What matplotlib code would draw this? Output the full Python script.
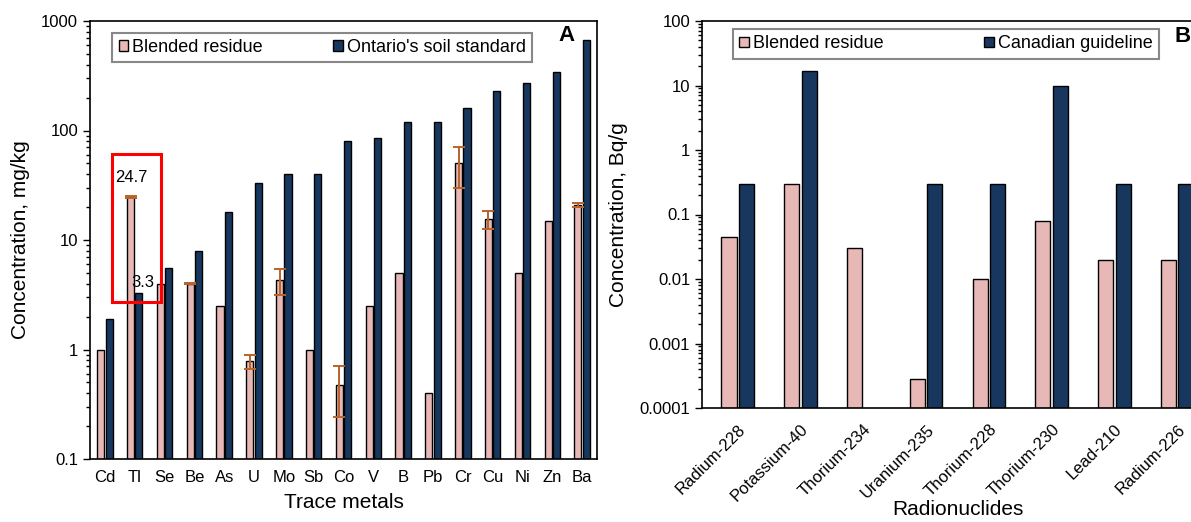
import numpy as np
import matplotlib
matplotlib.use("Agg")
import matplotlib.pyplot as plt
from matplotlib.patches import Rectangle
from matplotlib.ticker import LogLocator, NullFormatter, FixedLocator, FixedFormatter

plt.rcParams['font.family'] = ['Liberation Sans', 'DejaVu Sans']

# ---- Panel A data ----
metals = ["Cd", "Tl", "Se", "Be", "As", "U", "Mo", "Sb", "Co", "V", "B", "Pb",
          "Cr", "Cu", "Ni", "Zn", "Ba"]
blended_metals = [1.0, 24.7, 4.0, 4.0, 2.5, 0.78, 4.3, 1.0, 0.47, 2.5, 5.0, 0.4,
                  50, 15.5, 5.0, 15, 21]
blended_metals_err = [np.nan, 0.5, np.nan, 0.05, np.nan, 0.12, 1.15, np.nan, 0.23,
                      np.nan, np.nan, np.nan, 20, 3.0, np.nan, np.nan, 1.0]
ontario_std = [1.9, 3.3, 5.5, 8, 18, 33, 40, 40, 80, 86, 120, 120,
               160, 230, 270, 340, 670]

# ---- Panel B data ----
nuclides = ["Radium-228", "Potassium-40", "Thorium-234", "Uranium-235",
            "Thorium-228", "Thorium-230", "Lead-210", "Radium-226"]
blended_nuc = [0.045, 0.3, 0.03, 0.00028, 0.01, 0.08, 0.02, 0.02]
canadian_guideline = [0.3, 17, np.nan, 0.3, 0.3, 10, 0.3, 0.3]

PINK = "#e8b8b7"
NAVY = "#17375e"
ERR = "#b8632a"

fig = plt.figure(figsize=(11.91, 5.22), dpi=100)

W = 1191.0
H = 522.0
axA = fig.add_axes([90 / W, 1 - 459 / H, (597 - 90) / W, (459 - 21) / H])
axB = fig.add_axes([702 / W, 1 - 408 / H, (1213 - 702) / W, (408 - 21) / H])

bw = 0.24
off = 0.14

leg_kw = dict(loc="center", mode="expand", ncol=2, fontsize=13, frameon=True,
              fancybox=False, edgecolor="#888888", handlelength=0.55,
              handleheight=0.55, handletextpad=0.2, borderpad=0.35, framealpha=1)

# Panel A
x = np.arange(len(metals))
axA.bar(x - off, blended_metals, bw, color=PINK, edgecolor="black", linewidth=1.0,
        label="Blended residue", zorder=2)
axA.bar(x + off, ontario_std, bw, color=NAVY, edgecolor="black", linewidth=1.0,
        label="Ontario's soil standard", zorder=2)
err = np.array(blended_metals_err, dtype=float)
m = ~np.isnan(err)
axA.errorbar((x - off)[m], np.array(blended_metals)[m], yerr=err[m], fmt="none",
             ecolor=ERR, elinewidth=1.4, capsize=4, capthick=1.4, zorder=3)
axA.set_yscale("log")
axA.set_ylim(0.1, 1000)
axA.set_xlim(-0.5, len(metals) - 0.5)
axA.set_xticks(x)
axA.set_xticklabels(metals, fontsize=12)
axA.tick_params(axis="x", length=0, pad=8)
axA.yaxis.set_major_locator(FixedLocator([0.1, 1, 10, 100, 1000]))
axA.yaxis.set_major_formatter(FixedFormatter(["0.1", "1", "10", "100", "1000"]))
axA.yaxis.set_minor_locator(LogLocator(base=10, subs=np.arange(2, 10)))
axA.yaxis.set_minor_formatter(NullFormatter())
axA.tick_params(axis="y", which="major", labelsize=12, length=5, width=1)
axA.tick_params(axis="y", which="minor", length=3, width=1)
axA.set_xlabel("Trace metals", fontsize=15, labelpad=6)
axA.set_ylabel("Concentration, mg/kg", fontsize=15, labelpad=8)
for s in axA.spines.values():
    s.set_linewidth(1.2)
legA = axA.legend(bbox_to_anchor=(0.026, 0.9, 0.864, 0.079), **leg_kw)
legA.get_frame().set_linewidth(1.5)
axA.text(0.939, 0.966, "A", transform=axA.transAxes, fontsize=16, fontweight="bold",
         ha="center", va="center")
# annotations
axA.text(1 - off + 0.02, 37, "24.7", fontsize=12, ha="center", va="center", zorder=4)
axA.text(1 + off + 0.12, 4.1, "3.3", fontsize=12, ha="center", va="center", zorder=4)
axA.add_patch(Rectangle((0.23, 2.73), 1.64, 61.5 - 2.73, fill=False,
                        edgecolor="red", linewidth=2.2, zorder=5))

# Panel B
xb = np.arange(len(nuclides))
axB.bar(xb - off, blended_nuc, bw, color=PINK, edgecolor="black", linewidth=1.0,
        label="Blended residue", zorder=2)
axB.bar(xb + off, canadian_guideline, bw, color=NAVY, edgecolor="black", linewidth=1.0,
        label="Canadian guideline", zorder=2)
axB.set_yscale("log")
axB.set_ylim(0.0001, 100)
axB.set_xlim(-0.57, len(nuclides) - 0.43)
axB.set_xticks(xb)
axB.set_xticklabels(nuclides, fontsize=12, rotation=45, ha="right",
                    rotation_mode="anchor")
axB.tick_params(axis="x", length=0, pad=10)
bt = [0.0001, 0.001, 0.01, 0.1, 1, 10, 100]
axB.yaxis.set_major_locator(FixedLocator(bt))
axB.yaxis.set_major_formatter(FixedFormatter(["0.0001", "0.001", "0.01", "0.1", "1", "10", "100"]))
axB.yaxis.set_minor_locator(LogLocator(base=10, subs=np.arange(2, 10)))
axB.yaxis.set_minor_formatter(NullFormatter())
axB.tick_params(axis="y", which="major", labelsize=12, length=5, width=1)
axB.tick_params(axis="y", which="minor", length=3, width=1)
axB.set_xlabel("Radionuclides", fontsize=15, labelpad=-3)
axB.set_ylabel("Concentration, Bq/g", fontsize=15, labelpad=8)
for s in axB.spines.values():
    s.set_linewidth(1.2)
legB = axB.legend(bbox_to_anchor=(0.043, 0.897, 0.869, 0.088), **leg_kw)
legB.get_frame().set_linewidth(1.5)
axB.text(0.941, 0.96, "B", transform=axB.transAxes, fontsize=16, fontweight="bold",
         ha="center", va="center")

fig.savefig("out.png", dpi=100)
